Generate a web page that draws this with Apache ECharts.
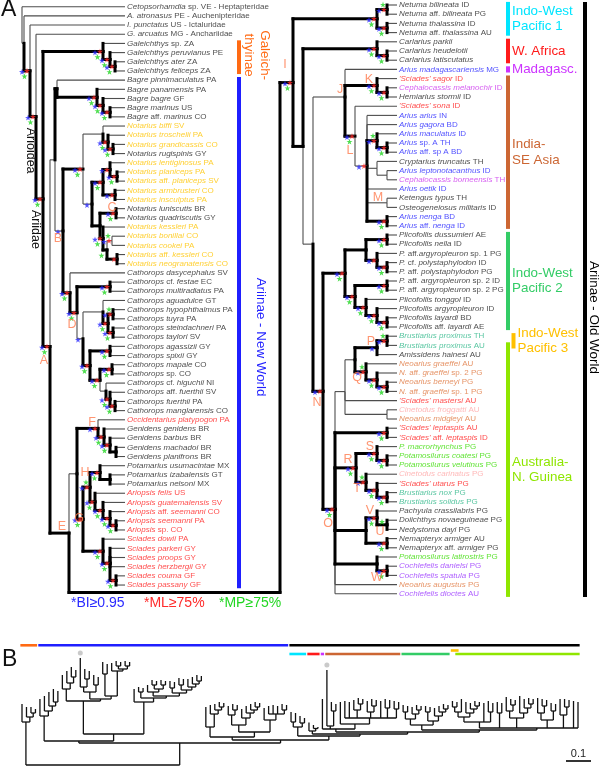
<!DOCTYPE html>
<html><head><meta charset="utf-8">
<script src="https://cdn.jsdelivr.net/npm/echarts@6/dist/echarts.min.js"></script>
<style>html,body{margin:0;padding:0;background:#fff}#c{width:600px;height:769px}</style>
</head><body><div id="c"></div>
<script>
const FONT = "'Liberation Sans', Arial, Helvetica, sans-serif";

// ---------- DATA ----------
// taxa: [name (italic parts between _ _), colour key, panel-B tip depth (subst./site), grey dot]
const leftTaxa = [
 ['_Cetopsorhamdia_ sp. VE - Heptapteridae','k',null],
 ['_A. atronasus_ PE - Auchenipteridae','k',null],
 ['_I. punctatus_ US - Ictaluridae','k',null],
 ['_G. arcuatus_ MG - Anchariidae','k',null],
 ['_Galeichthys_ sp. ZA','k',0.244],
 ['_Galeichthys peruvianus_ PE','k',0.232],
 ['_Galeichthys ater_ ZA','k',0.232],
 ['_Galeichthys feliceps_ ZA','k',0.224],
 ['_Bagre pinnimaculatus_ PA','k',0.264],
 ['_Bagre panamensis_ PA','k',0.276],
 ['_Bagre bagre_ GF','k',0.292],
 ['_Bagre marinus_ US','k',0.304],
 ['_Bagre_ aff. _marinus_ CO','k',0.296],
 ['_Notarius biffi_ SV','y',0.36],
 ['_Notarius troschelii_ PA','y',0.376],
 ['_Notarius grandicassis_ CO','y',0.392],
 ['_Notarius rugispinis_ GY','k',0.38],
 ['_Notarius lentiginosus_ PA','y',0.428,1],
 ['_Notarius planiceps_ PA','y',0.384],
 ['_Notarius_ aff. _planiceps_ SV','y',0.376],
 ['_Notarius armbrusteri_ CO','y',0.36],
 ['_Notarius insculptus_ PA','y',0.352],
 ['_Notarius luniscutis_ BR','k',0.412],
 ['_Notarius quadriscutis_ GY','k',0.404],
 ['_Notarius kessleri_ PA','y',0.408],
 ['_Notarius bonillai_ CO','y',0.416],
 ['_Notarius cookei_ PA','y',0.412],
 ['_Notarius_ aff. _kessleri_ CO','y',0.416],
 ['_Notarius neogranatensis_ CO','y',0.412],
 ['_Cathorops dasycephalus_ SV','k',0.304],
 ['_Cathorops_ cf. _festae_ EC','k',0.312],
 ['_Cathorops multiradiatus_ PA','k',0.308],
 ['_Cathorops aguadulce_ GT','k',0.32],
 ['_Cathorops hypophthalmus_ PA','k',0.34],
 ['_Cathorops tuyra_ PA','k',0.336],
 ['_Cathorops steindachneri_ PA','k',0.34],
 ['_Cathorops taylori_ SV','k',0.336],
 ['_Cathorops agassizii_ GY','k',0.336],
 ['_Cathorops spixii_ GY','k',0.332],
 ['_Cathorops mapale_ CO','k',0.348],
 ['_Cathorops_ sp. CO','k',0.344],
 ['_Cathorops_ cf. _higuchii_ NI','k',0.344],
 ['_Cathorops_ aff. _fuerthii_ SV','k',0.352],
 ['_Cathorops fuerthii_ PA','k',0.36],
 ['_Cathorops manglarensis_ CO','k',0.356],
 ['_Occidentarius platypogon_ PA','r',0.232],
 ['_Genidens genidens_ BR','k',0.24],
 ['_Genidens barbus_ BR','k',0.244],
 ['_Genidens machadoi_ BR','k',0.252],
 ['_Genidens planifrons_ BR','k',0.248],
 ['_Potamarius usumacintae_ MX','k',0.236],
 ['_Potamarius izabalensis_ GT','k',0.244],
 ['_Potamarius nelsoni_ MX','k',0.24],
 ['_Ariopsis felis_ US','r',0.224],
 ['_Ariopsis guatemalensis_ SV','r',0.236],
 ['_Ariopsis_ aff. _seemanni_ CO','r',0.244],
 ['_Ariopsis seemanni_ PA','r',0.252],
 ['_Ariopsis_ sp. CO','r',0.248],
 ['_Sciades dowii_ PA','r',0.228],
 ['_Sciades parkeri_ GY','r',0.236],
 ['_Sciades proops_ GY','r',0.24],
 ['_Sciades herzbergii_ GY','r',0.236],
 ['_Sciades couma_ GF','r',0.244],
 ['_Sciades passany_ GF','r',0.24]
];
const rightTaxa = [
 ['_Netuma bilineata_ ID','k',0.212],
 ['_Netuma_ aff. _bilineata_ PG','k',0.208],
 ['_Netuma thalassina_ ID','k',0.196],
 ['_Netuma_ aff. _thalassina_ AU','k',0.188],
 ['_Carlarius parkii_','k',0.17],
 ['_Carlarius heudelotii_','k',0.16],
 ['_Carlarius latiscutatus_','k',0.152],
 ['_Arius madagascariensis_ MG','b',0.264],
 ["_'Sciades' sagor_ ID",'r',0.38,1],
 ['_Cephalocassis melanochir_ ID','m',0.252],
 ['_Hemiarius stormii_ ID','k',0.244],
 ["_'Sciades' sona_ ID",'r',0.252],
 ['_Arius arius_ IN','b',0.256],
 ['_Arius gagora_ BD','b',0.252],
 ['_Arius maculatus_ ID','b',0.26],
 ['_Arius_ sp. A TH','b',0.268],
 ['_Arius_ aff. sp A BD','b',0.264],
 ['_Cryptarius truncatus_ TH','k',0.256],
 ['_Arius leptonotacanthus_ ID','b',0.264],
 ['_Cephalocassis borneensis_ TH','m',0.26],
 ['_Arius oetik_ ID','b',0.256],
 ['_Ketengus typus_ TH','k',0.264],
 ['_Osteogeneiosus militaris_ ID','k',0.26],
 ['_Arius nenga_ BD','b',0.256],
 ['_Arius_ aff. _nenga_ ID','b',0.252],
 ['_Plicofollis dussumieri_ AE','k',0.24],
 ['_Plicofollis nella_ ID','k',0.236],
 ['_P._ aff._argyropleuron_ sp. 1 PG','k',0.232],
 ['_P._ cf. _polystaphylodon_ ID','k',0.24],
 ['_P._ aff. _polystaphylodon_ PG','k',0.236],
 ['_P._ aff. _argyropleuron_ sp. 2 ID','k',0.236],
 ['_P._ aff. _argyropleuron_ sp. 2 PG','k',0.232],
 ['_Plicofollis tonggol_ ID','k',0.228],
 ['_Plicofollis argyropleuron_ ID','k',0.236],
 ['_Plicofollis layardi_ BD','k',0.244],
 ['_Plicofollis_ aff. _layardi_ AE','k',0.24],
 ['_Brustiarius proximus_ TH','t',0.256],
 ['_Brustiarius proximus_ AU','t',0.252],
 ['_Amissidens hainesi_ AU','k',0.264],
 ['_Neoarius graeffei_ AU','o',0.252],
 ['_N._ aff. _graeffei_ sp. 2 PG','o',0.248],
 ['_Neoarius berneyi_ PG','o',0.256],
 ['_N._ aff. _graeffei_ sp. 1 PG','o',0.252],
 ["_'Sciades' mastersi_ AU",'r',0.248],
 ['_Cinetodus froggatti_ AU','p',0.256],
 ['_Neoarius midgleyi_ AU','o',0.248],
 ["_'Sciades' leptaspis_ AU",'r',0.252],
 ["_'Sciades'_ aff. _leptaspis_ ID",'r',0.248],
 ['_P. macrorhynchus_ PG','g',0.272],
 ['_Potamosilurus coatesi_ PG','g',0.264],
 ['_Potamosilurus velutinus_ PG','g',0.26],
 ['_Cinetodus carinatus_ PG','p',0.276],
 ["_'Sciades' utarus_ PG",'r',0.264],
 ['_Brustiarius nox_ PG','t',0.268],
 ['_Brustiarius solidus_ PG','t',0.264],
 ['_Pachyula crassilabris_ PG','k',0.268],
 ['_Doiichthys novaeguineae_ PG','k',0.264],
 ['_Nedystoma dayi_ PG','k',0.26],
 ['_Nemapteryx armiger_ AU','k',0.248],
 ['_Nemapteryx_ aff. _armiger_ PG','k',0.244],
 ['_Potamosilurus latirostris_ PG','g',0.264],
 ['_Cochlefelis danielsi_ PG','v',0.264],
 ['_Cochlefelis spatula_ PG','v',0.26],
 ['_Neoarius augustus_ PG','o',0.256],
 ['_Cochlefelis dioctes_ AU','v',0.252]
];

// internal nodes: [name, children ('#' = next taxon, '@' = Old World clade), depth in panel A,
//                  support (b=BI, r=ML, g=MP, G=MP drawn above), thick branch (0/1/2), clade letter, panel-B node depth]
const leftNodes = [
 ['root','#,N1',22,'',0,'',null],
 ['N1','#,N2',24,'',0,'',null],
 ['N2','#,N3',30,'brg',1,'',null],
 ['N3','#,Ariidae',36,'brg',1,'',null],
 ['Ariidae','Galeich,A',43,'brg',1,'',0],
 ['Galeich','#,G2',103,'brg',2,'',0.172],
 ['G2','#,G3',110,'brg',2,'',0.192],
 ['G3','#,#',115,'brg',2,'',0.208],
 ['A','X,E',50,'brg',1,'A',0.088],
 ['X','Bagre,B',55,'',0,'',0.096],
 ['Bagre','#,B2',57,'',1,'',0.196],
 ['B2','#,B3',97,'brg',2,'',0.216],
 ['B3','#,B4',103,'brg',2,'',0.236],
 ['B4','#,#',110,'brg',2,'',0.252],
 ['B','Notarius,Cat',63,'b',0,'B',0.124],
 ['Notarius','Nt1,NtB',83,'brg',1,'',0.256],
 ['Nt1','#,Nt2',103,'',0,'',0.304],
 ['Nt2','#,Nt3',108,'brg',2,'',0.328],
 ['Nt3','#,#',113,'brg',2,'',0.352],
 ['NtB','NtC,NtD',92,'b',0,'',0.264],
 ['NtC','Nl,Na',103,'brg',2,'',0.292],
 ['Nl','#,Npp',110,'br',2,'',0.312],
 ['Npp','#,#',117,'brg',2,'',0.344],
 ['Na','#,#',115,'br',2,'',0.32],
 ['NtD','Nq,Nk',100,'',1,'',0.276],
 ['Nq','#,#',116,'brg',2,'C',0.364],
 ['Nk','#,Nbcn',103,'brg',2,'',0.376],
 ['Nbcn','Nbc,Nkn',107,'g',2,'',0.384],
 ['Nbc','#,#',112,'brG',0,'',0.396],
 ['Nkn','#,#',117,'r',2,'',0.396],
 ['Cat','#,D',70,'brg',1,'',0.252],
 ['D','Nfm,Nrest',77,'brg',1,'D',0.268],
 ['Nfm','#,#',110,'brg',2,'',0.292],
 ['Nrest','Nagu,Nagas',83,'b',0,'',0.276],
 ['Nagu','#,Nhyp',103,'',0,'',0.292],
 ['Nhyp','Nht,Nst',108,'brg',2,'',0.304],
 ['Nht','#,#',113,'brG',2,'',0.32],
 ['Nst','#,#',113,'brg',2,'',0.32],
 ['Nagas','Nas,Nmr',90,'brg',1,'',0.288],
 ['Nas','#,#',110,'brg',2,'',0.308],
 ['Nmr','Nms,Nhig',100,'brg',2,'',0.30],
 ['Nms','#,#',112,'brg',2,'',0.32],
 ['Nhig','#,Nff',106,'',0,'',0.312],
 ['Nff','#,Nfm2',110,'brg',2,'',0.324],
 ['Nfm2','#,#',115,'brg',2,'',0.336],
 ['E','FG,@',69,'',1,'E',0.10],
 ['FG','F,G',77,'',0,'',0.112],
 ['F','#,Gen',98,'br',1,'F',0.152],
 ['Gen','#,Gbmp',104,'brg',2,'',0.204],
 ['Gbmp','#,Nmp',110,'brg',2,'',0.22],
 ['Nmp','#,#',116,'',2,'',0.232],
 ['G','H,Sci',83,'brg',1,'G',0.132],
 ['H','Pot,Ari',90,'brG',1,'H',0.16],
 ['Pot','#,Pot2',100,'brg',2,'',0.20],
 ['Pot2','#,#',110,'',2,'',0.22],
 ['Ari','#,A2',95,'brg',2,'',0.188],
 ['A2','#,A3',103,'brg',2,'',0.208],
 ['A3','#,A4',110,'brg',2,'',0.22],
 ['A4','#,#',116,'brg',2,'',0.232],
 ['Sci','#,S2',103,'brg',2,'',0.18],
 ['S2','#,#,#,Ncp',110,'brg',2,'',0.204],
 ['Ncp','#,#',116,'brg',2,'',0.22]
];
const rightNodes = [
 ['I','Netuma,CR',293,'brg',1,'I',0.116],
 ['Netuma','Nb,Nt',377,'brg',2,'',0.152],
 ['Nb','#,#',387,'brG',2,'',0.172],
 ['Nt','#,#',387,'brg',2,'',0.168],
 ['CR','Carl,R1',303,'',1,'',0.124],
 ['Carl','#,Nhl',377,'brg',2,'',0.136],
 ['Nhl','#,#',387,'brg',2,'',0.146],
 ['R1','J,N',313,'',0,'',0.132],
 ['J','#,K,L',345,'',0,'J',0.144],
 ['K','#,Kcm',377,'brg',2,'K',0.156],
 ['Kcm','#,#',387,'brg',2,'',0.216],
 ['L','#,Narius',355,'brg',1,'L',0.164],
 ['Narius','#,#,Nmac,Ncry,#,Nko,Nne',367,'br',0,'',0.188],
 ['Nmac','#,Nsp',377,'brG',2,'',0.22],
 ['Nsp','#,#',387,'brg',2,'',0.244],
 ['Ncry','#,Nlb',377,'',0,'',0.212],
 ['Nlb','#,#',387,'',0,'',0.236],
 ['Nko','#,#',387,'',0,'M',0.228],
 ['Nne','#,#',387,'brg',2,'',0.224],
 ['N','Plico,O',323,'br',1,'N',0.14],
 ['Plico','P1,P2',345,'brg',1,'',0.16],
 ['P1','Pdn,Pa1',366,'',1,'',0.184],
 ['Pdn','#,#',387,'brg',2,'',0.212],
 ['Pa1','#,Pp',377,'br',2,'',0.204],
 ['Pp','#,#',387,'brg',2,'',0.22],
 ['P2','Pa2,Pt',355,'brg',1,'',0.176],
 ['Pa2','#,#',387,'brg',2,'',0.212],
 ['Pt','#,Pa3',366,'brg',2,'',0.196],
 ['Pa3','#,Pl',377,'brg',2,'',0.212],
 ['Pl','#,#',387,'brg',2,'',0.224],
 ['O','Nx,Nlep,R,VN,Nw,#,#',335,'brg',1,'O',0.148],
 ['Nx','PQ,#,Nfrog',345,'',0,'',0.172],
 ['PQ','P,Q',355,'',0,'',0.192],
 ['P','Bp,#',377,'b',2,'P',0.212],
 ['Bp','#,#',387,'brG',2,'',0.232],
 ['Q','#,Nq1',366,'brG',2,'Q',0.208],
 ['Nq1','#,Nq2',377,'brg',2,'',0.224],
 ['Nq2','#,#',387,'brg',2,'',0.236],
 ['Nfrog','#,#',387,'',0,'',0.212],
 ['Nlep','#,#',387,'brg',2,'',0.208],
 ['R','S,T',356,'brg',1,'R',0.188],
 ['S','#,Scv',377,'brg',2,'S',0.216],
 ['Scv','#,#',387,'brg',2,'',0.24],
 ['T','#,Tu',366,'brG',2,'T',0.208],
 ['Tu','#,Tbn',377,'brg',2,'',0.228],
 ['Tbn','#,#',387,'brg',2,'',0.244],
 ['VN','V,Nnem',366,'',1,'',0.18],
 ['V','#,Ndn',377,'brg',2,'V',0.208],
 ['Ndn','#,#',387,'G',2,'U',0.236],
 ['Nnem','#,#',387,'brg',2,'',0.216],
 ['Nw','#,Nds',377,'',2,'',0.20],
 ['Nds','#,#',387,'brg',2,'W',0.232]
];
// named higher clades written along their stem: [node, name]
const stemNames = [['N3', 'Arioidea'], ['Ariidae', 'Ariidae']];

// clade bars: [first row, last row, label, colour]
const leftGroups = [
 [4, 7, 'Galeich-\nthyinae', '#ff6a13'],
 [8, 63, 'Ariinae - New World', '#1f1fff']
];
const rightGroups = [
 [0, 3, 'Indo-West\nPacific 1', '#00e5ff'],
 [4, 6, 'W. Africa', '#ff1a1a'],
 [7, 7, 'Madagasc.', '#cc33ff'],
 [8, 24, 'India-\nSE Asia', '#cc6633'],
 [25, 35, 'Indo-West\nPacific 2', '#33cc66'],
 [36, 37, 'Indo-West\nPacific 3', '#ffc000'],
 [37, 64, 'Australia-\nN. Guinea', '#8fe600']
];
const oldWorldGroup = [0, 64, 'Ariinae - Old World', '#000000'];
const supportLegend = ['*BI\u22650.95', '*ML\u226575%', '*MP\u226575%'];
const scaleBarValue = 0.1;

// ---------- STYLE ----------
const nameColors = {k:'#1a1a1a', y:'#ffc400', r:'#ff2020', b:'#2626ff', m:'#cc33ee', t:'#2fb88a', o:'#e07840', p:'#ffa8a8', g:'#38dc00', v:'#9933ff'};
const starColors = {b:'#2b2bff', r:'#ff2b2b', g:'#22d622'};
const starOffsets = {b:[-8,1], r:[-3,0], g:[-5.5,5.5], G:[-4,-5]};
const letterOffset = {A:[-6,14],B:[-5,8],C:[-4,-6],D:[-5,12],E:[-7,-7],F:[-6,-6],G:[-4,-1],H:[-5,-15],
  I:[-8,-18],J:[-5,-7],K:[-8,-6],L:[-5,14],M:[-9,-5],N:[-6,11],O:[-7,14],P:[-6,-6],Q:[-9,6],R:[-8,-8],S:[-7,-7],T:[-9,6],U:[-7,7],V:[-7,-7],W:[-10,7]};
const stemNameOffset = {Arioidea: [-6, 34], Ariidae: [-7.5, 30.5]};
const joinPoint = {x: 280, row: 63.8};
const tipXLeft = 125, tipXRight = 397;

// ---------- TREE BUILDING ----------
function buildTree(table) {
  const by = {};
  table.forEach(r => by[r[0]] = {name:r[0], kids:r[1].split(','), x:r[2], supp:r[3], thick:r[4], letter:r[5], bd:r[6]});
  let leaf = 0;
  function expand(n) {
    n.children = n.kids.map(k => {
      if (k === '#') return {leaf: leaf++, thick: 0};
      if (k === '@') return {join: true, thick: 1};
      return expand(by[k]);
    });
    return n;
  }
  return expand(by[table[0][0]]);
}
function layout(n, tipX) {
  if (n.leaf !== undefined) { n.x = tipX; n.y = n.leaf; return; }
  if (n.join) { n.x = joinPoint.x; n.y = joinPoint.row; return; }
  n.children.forEach(c => layout(c, tipX));
  n.y = n.children.reduce((s, c) => s + c.y, 0) / n.children.length;
}
function collect(n, thin, thick, nodes) {
  if (!n.children) return;
  nodes.push(n);
  n.children.forEach(c => {
    const isLeaf = c.leaf !== undefined;
    const v = c.join || (!isLeaf && c.thick > 0) || (isLeaf && n.thick === 2);
    const h = c.join || (!isLeaf && c.thick > 0);
    (v ? thick : thin).push([n.x, n.y, n.x, c.y]);
    (h ? thick : thin).push([n.x, c.y, c.x, c.y]);
    collect(c, thin, thick, nodes);
  });
}
const leftRoot = buildTree(leftNodes);
const rightRoot = buildTree(rightNodes);
layout(leftRoot, tipXLeft);
layout(rightRoot, tipXRight);
const L = {thin: [], thick: [], nodes: []}, R = {thin: [], thick: [], nodes: []};
collect(leftRoot, L.thin, L.thick, L.nodes);
collect(rightRoot, R.thin, R.thick, R.nodes);
R.thick.push([joinPoint.x, joinPoint.row, joinPoint.x, rightRoot.y]);
R.thick.push([joinPoint.x, rightRoot.y, rightRoot.x, rightRoot.y]);

function starData(nodes) {
  const out = [];
  nodes.forEach(n => {
    for (const ch of n.supp) {
      let off = starOffsets[ch];
      if (ch === 'b' && n.supp.indexOf('r') < 0) off = [-5, 1];
      if (n.supp === 'G') off = [-5, -3];
      out.push({value: [n.x, n.y], symbolOffset: off, itemStyle: {color: starColors[ch.toLowerCase()]}});
    }
  });
  return out;
}
function letterNodes(nodes) { return nodes.filter(n => n.letter); }

// panel B phylogram (Ariidae, Old World clade grafted at '@')
function buildB() {
  function find(n, name) {
    if (n.name === name) return n;
    if (!n.children) return null;
    for (const c of n.children) { const r = find(c, name); if (r) return r; }
    return null;
  }
  let tip = 0;
  function rec(n, side) {
    if (n.join) return rec(rightRoot, 'R');
    if (n.leaf !== undefined) {
      const t = (side === 'L' ? leftTaxa : rightTaxa)[n.leaf];
      return {bx: tip++, bd: t[2], dot: t[3], leaf: true};
    }
    const kids = n.children.map(c => rec(c, side));
    return {bx: kids.reduce((s, k) => s + k.bx, 0) / kids.length, bd: n.bd, kids};
  }
  return rec(find(leftRoot, 'Ariidae'), 'L');
}
const bRoot = buildB();
const bSegs = [], bDots = [];
(function collectB(n) {
  if (n.leaf) { if (n.dot) bDots.push([n.bx, n.bd]); return; }
  bSegs.push([n.kids[0].bx, n.bd, n.kids[n.kids.length - 1].bx, n.bd]);
  n.kids.forEach(k => { bSegs.push([k.bx, n.bd, k.bx, k.bd]); collectB(k); });
})(bRoot);
const nLeftIngroup = leftTaxa.filter(t => t[2] !== null).length;
const firstIngroupRow = leftTaxa.length - nLeftIngroup;
const bBars = [];
leftGroups.forEach(g => bBars.push([g[0] - firstIngroupRow, g[1] - firstIngroupRow, 0, g[3]]));
bBars.push([nLeftIngroup + oldWorldGroup[0], nLeftIngroup + oldWorldGroup[1], 0, oldWorldGroup[3]]);
rightGroups.forEach((g, i) => bBars.push([nLeftIngroup + g[0], nLeftIngroup + g[1], i === 5 ? 2 : 1, g[3]]));
const bLaneY = [4, 12.7, 9.2];

// ---------- SERIES HELPERS ----------
function segSeries(data, gi, color, width, z) {
  return {type: 'custom', xAxisIndex: gi, yAxisIndex: gi, silent: true, z, clip: false, data,
    renderItem: (p, api) => {
      const a = api.coord([api.value(0), api.value(1)]), b = api.coord([api.value(2), api.value(3)]);
      return {type: 'line', shape: {x1: a[0], y1: a[1], x2: b[0], y2: b[1]},
        style: {stroke: color, lineWidth: width, lineCap: width > 2 ? 'square' : 'butt'}};
    }};
}
const rich = {};
Object.keys(nameColors).forEach(k => {
  rich['i' + k] = {color: nameColors[k], fontStyle: 'italic', fontSize: 8, fontFamily: FONT};
  rich['n' + k] = {color: nameColors[k], fontSize: 8, fontFamily: FONT};
});
function leafLabels(taxa, tipX, gi) {
  const texts = taxa.map(t => t[0].split('_').map((s, k) => s ? '{' + (k % 2 ? 'i' : 'n') + t[1] + '|' + s + '}' : '').join(''));
  return {type: 'scatter', xAxisIndex: gi, yAxisIndex: gi, symbolSize: 0, silent: true, z: 6,
    data: taxa.map((t, i) => [tipX, i]),
    label: {show: true, position: 'right', distance: 2, formatter: p => texts[p.dataIndex], rich, fontSize: 8, fontFamily: FONT}};
}
function starSeries(nodes, gi) {
  return {type: 'scatter', xAxisIndex: gi, yAxisIndex: gi, silent: true, z: 5, clip: false,
    symbol: 'path://M0,-10L2.245,-3.09L9.51,-3.09L3.633,1.18L5.878,8.09L0,3.82L-5.878,8.09L-3.633,1.18L-9.51,-3.09L-2.245,-3.09Z',
    symbolSize: 6, data: starData(nodes)};
}
function letterSeries(nodes, gi) {
  const ln = letterNodes(nodes);
  return {type: 'scatter', xAxisIndex: gi, yAxisIndex: gi, silent: true, z: 6, symbolSize: 0, clip: false,
    data: ln.map(n => ({value: [n.x, n.y], label: {offset: letterOffset[n.letter]}})),
    label: {show: true, position: 'inside', formatter: p => ln[p.dataIndex].letter, color: '#ff7a4d', fontSize: 12.5, fontFamily: FONT}};
}
function stemNameSeries(nodes, gi) {
  const items = stemNames.map(s => ({node: nodes.find(n => n.name === s[0]), text: s[1]}));
  return {type: 'custom', xAxisIndex: gi, yAxisIndex: gi, silent: true, z: 6, clip: false,
    data: items.map(it => [it.node.x, it.node.y]),
    renderItem: (p, api) => {
      const it = items[p.dataIndex], off = stemNameOffset[it.text];
      const c = api.coord([api.value(0), api.value(1)]);
      return {type: 'text', x: c[0] + off[0], y: c[1] + off[1], rotation: -Math.PI / 2,
        style: {text: it.text, fill: '#111', font: '12.5px ' + FONT, textAlign: 'center', textVerticalAlign: 'middle'}};
    }};
}
// group bar + label: cols/labels are drawing style
function groupSeries(groups, gi, styleFor) {
  return {type: 'custom', xAxisIndex: gi, yAxisIndex: gi, silent: true, z: 4, clip: false,
    data: groups.map(g => [g[0], g[1]]),
    renderItem: (p, api) => {
      const g = groups[p.dataIndex], st = styleFor(p.dataIndex);
      const a = api.coord([st.col, api.value(0) - 0.5]), b = api.coord([st.col, api.value(1) + 0.5]);
      const mid = (a[1] + b[1]) / 2;
      return {type: 'group', children: [
        {type: 'rect', shape: {x: a[0] - 2, y: a[1] + 1.5, width: 4, height: b[1] - a[1] - 3}, style: {fill: g[3]}},
        {type: 'text', x: a[0] + st.dx, y: mid + st.dy, rotation: st.rot ? -Math.PI / 2 : 0,
          style: {text: g[2], fill: g[3], font: '13.4px ' + FONT, textAlign: st.rot ? 'center' : 'left',
            textVerticalAlign: 'middle', lineHeight: 15.5}}
      ]};
    }};
}

const option = {
  animation: false,
  backgroundColor: '#ffffff',
  title: [
    {text: 'A', left: 1, top: -2, padding: 0, textStyle: {fontSize: 23, fontWeight: 'normal', color: '#111', fontFamily: FONT}},
    {text: 'B', left: 2, top: 648, padding: 0, textStyle: {fontSize: 23, fontWeight: 'normal', color: '#111', fontFamily: FONT}},
    {text: supportLegend[0], left: 71, top: 596, padding: 0, textStyle: {fontSize: 14, fontWeight: 'normal', color: '#2b2bff', fontFamily: FONT}},
    {text: supportLegend[1], left: 144, top: 596, padding: 0, textStyle: {fontSize: 14, fontWeight: 'normal', color: '#ff2b2b', fontFamily: FONT}},
    {text: supportLegend[2], left: 219, top: 596, padding: 0, textStyle: {fontSize: 14, fontWeight: 'normal', color: '#22d622', fontFamily: FONT}}
  ],
  grid: [
    {left: 0, top: 2.11, width: 600, height: 596.7, containLabel: false, outerBoundsMode: 'none'},
    {left: 0, top: 0.4, width: 600, height: 598, containLabel: false, outerBoundsMode: 'none'},
    {left: 22, top: 640, width: 556, height: 125, containLabel: false, outerBoundsMode: 'none'}
  ],
  xAxis: [
    {gridIndex: 0, type: 'value', min: 0, max: 600, show: false},
    {gridIndex: 1, type: 'value', min: 0, max: 600, show: false},
    {gridIndex: 2, type: 'value', min: 0, max: 124, show: false}
  ],
  yAxis: [
    {gridIndex: 0, type: 'value', min: -0.5, max: 64.5, inverse: true, show: false},
    {gridIndex: 1, type: 'value', min: -0.5, max: 64.5, inverse: true, show: false},
    {gridIndex: 2, type: 'value', min: 0, max: 0.5, show: false}
  ],
  series: [
    segSeries(L.thin, 0, '#4d4d4d', 1.1, 1),
    segSeries(L.thick, 0, '#000', 3, 2),
    segSeries(R.thin, 1, '#4d4d4d', 1.1, 1),
    segSeries(R.thick, 1, '#000', 3, 2),
    starSeries(L.nodes, 0),
    starSeries(R.nodes, 1),
    letterSeries(L.nodes, 0),
    letterSeries(R.nodes, 1),
    stemNameSeries(L.nodes, 0),
    leafLabels(leftTaxa, tipXLeft, 0),
    leafLabels(rightTaxa, tipXRight, 1),
    groupSeries(leftGroups, 0, i => i === 0 ? {col: 239, dx: 17.5, dy: -2, rot: true} : {col: 239, dx: 22, dy: 4.5, rot: true}),
    groupSeries(rightGroups, 1, i => i === 5 ? {col: 513.5, dx: 4, dy: 0} : {col: 508, dx: 4, dy: 0}),
    groupSeries([oldWorldGroup], 1, () => ({col: 585, dx: 9, dy: 18, rot: true})),
    segSeries(bSegs, 2, '#111', 1.3, 1),
    {type: 'scatter', xAxisIndex: 2, yAxisIndex: 2, silent: true, clip: false, symbolSize: 5, symbolOffset: [0, -5],
      itemStyle: {color: '#bdbdbd'}, data: bDots},
    {type: 'custom', xAxisIndex: 2, yAxisIndex: 2, silent: true, clip: false, data: bBars.map(b => [b[0], b[1], b[2]]),
      renderItem: (p, api) => {
        const cs = p.coordSys;
        const a = api.coord([api.value(0) - 0.5, 0]), b = api.coord([api.value(1) + 0.5, 0]);
        return {type: 'rect', shape: {x: a[0] + 0.6, y: cs.y + bLaneY[api.value(2)], width: b[0] - a[0] - 1.2, height: 2.6},
          style: {fill: bBars[p.dataIndex][3]}};
      }},
    {type: 'custom', xAxisIndex: 2, yAxisIndex: 2, silent: true, clip: false, data: [[scaleBarValue]],
      renderItem: (p, api) => {
        const cs = p.coordSys;
        const len = api.size([0, api.value(0)])[1];
        const xr = cs.x + cs.width + 13, yb = cs.y + cs.height - 4;
        return {type: 'group', children: [
          {type: 'line', shape: {x1: xr - len, y1: yb, x2: xr, y2: yb}, style: {stroke: '#000', lineWidth: 1.6}},
          {type: 'text', x: xr - len / 2, y: yb - 2, style: {text: String(scaleBarValue), fill: '#222', font: '11px ' + FONT, textAlign: 'center', textVerticalAlign: 'bottom'}}
        ]};
      }}
  ]
};
const chart = echarts.init(document.getElementById('c'), null, {renderer: 'canvas'});
chart.setOption(option);
</script></body></html>
